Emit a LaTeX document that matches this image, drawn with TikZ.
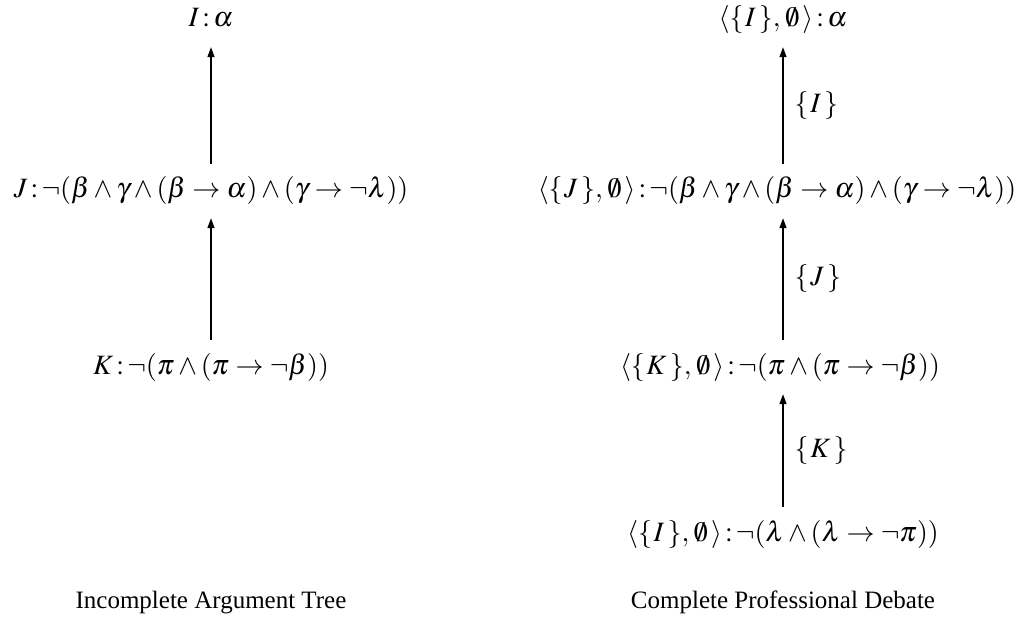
\documentclass[tikz,border=0pt]{standalone}
\usepackage{mathptmx}
\usepackage[no-math]{fontspec}
\setmainfont{Liberation Serif}
\usetikzlibrary{arrows.meta}
\tikzset{
  formula/.style={inner sep=0pt, anchor=base, text height=22pt, text depth=8pt, font=\fontsize{28}{33}\selectfont},
  caption/.style={inner sep=0pt, anchor=base, font=\fontsize{25}{30}\selectfont},
  support/.style={draw, line width=1.4pt, -{Triangle[length=10pt,width=7pt]}, shorten <=12pt, shorten >=12pt},
  edgelabel/.style={inner sep=0pt, right=11pt, midway, font=\fontsize{28}{33}\selectfont},
}
\newcommand{\cl}{\,{:}\,}
\newcommand{\setof}[1]{\{\mkern1mu#1\mkern2mu\}}
\newcommand{\argpair}[1]{\langle\setof{#1},\mkern1mu\emptyset\mkern2mu\rangle}
\begin{document}
\begin{tikzpicture}[x=1pt,y=-1pt]
\useasboundingbox (0,0) rectangle (1019,620);
% left tree
\node[formula] (I) at (211,27) {$I\cl\alpha$};
\node[formula] (J) at (211,198) {$J\cl\neg(\beta\wedge\gamma\wedge(\beta\rightarrow\alpha)\wedge(\gamma\rightarrow\neg\lambda))$};
\node[formula] (K) at (211,374) {$K\cl\neg(\pi\wedge(\pi\rightarrow\neg\beta))$};
\draw[support] (J) -- (I);
\draw[support] (K) -- (J);
\node[caption] (capL) at (211,608) {Incomplete Argument Tree};
% right debate
\node[formula] (dI) at (783,27) {$\argpair{I}\cl\alpha$};
\node[formula] (dJ) at (777,198) {$\argpair{J}\cl\neg(\beta\wedge\gamma\wedge(\beta\rightarrow\alpha)\wedge(\gamma\rightarrow\neg\lambda))$};
\node[formula] (dK) at (780,374) {$\argpair{K}\cl\neg(\pi\wedge(\pi\rightarrow\neg\beta))$};
\node[formula] (dL) at (783,541) {$\argpair{I}\cl\neg(\lambda\wedge(\lambda\rightarrow\neg\pi))$};
\draw[support] (dJ.north -| dI) -- node[edgelabel] {$\setof{I}$} (dI);
\draw[support] (dK.north -| dI) -- node[edgelabel] {$\setof{J}$} (dJ.south -| dI);
\draw[support] (dL) -- node[edgelabel] {$\setof{K}$} (dK.south -| dL);
\node[caption] (capR) at (783,608) {Complete Professional Debate};
\end{tikzpicture}
\end{document}
